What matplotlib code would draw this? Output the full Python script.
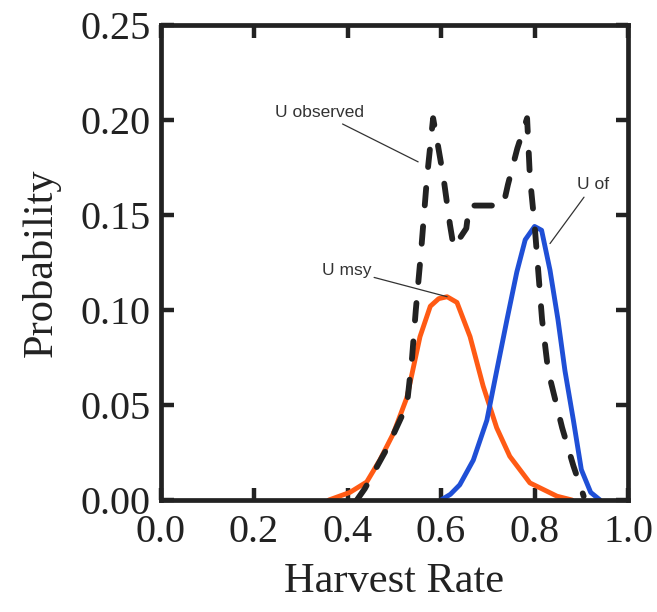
import matplotlib
matplotlib.use("Agg")
import matplotlib.pyplot as plt

# U msy (orange)
msy_x = [0.36, 0.405, 0.441, 0.469, 0.498, 0.527, 0.555, 0.577, 0.595, 0.613, 0.634, 0.662, 0.690, 0.719, 0.747, 0.790, 0.848, 0.880]
msy_y = [0.000, 0.004, 0.0095, 0.021, 0.035, 0.054, 0.086, 0.102, 0.106, 0.107, 0.104, 0.086, 0.060, 0.038, 0.023, 0.009, 0.002, 0.000]

# U of (blue)
of_x = [0.600, 0.620, 0.640, 0.669, 0.698, 0.719, 0.741, 0.762, 0.780, 0.800, 0.815, 0.833, 0.850, 0.865, 0.883, 0.900, 0.920, 0.940]
of_y = [0.000, 0.003, 0.008, 0.021, 0.042, 0.068, 0.095, 0.120, 0.137, 0.144, 0.142, 0.121, 0.095, 0.068, 0.042, 0.016, 0.004, 0.000]

# U observed (dashed)
obs_x = [0.420, 0.437, 0.484, 0.527, 0.538, 0.546, 0.557, 0.570, 0.583, 0.591, 0.605, 0.619, 0.627, 0.654, 0.660, 0.733,
         0.743, 0.763, 0.784, 0.790, 0.800, 0.808, 0.816, 0.829, 0.859, 0.883, 0.905]
obs_y = [0.000, 0.006, 0.027, 0.050, 0.075, 0.100, 0.130, 0.170, 0.201, 0.190, 0.170, 0.145, 0.133, 0.143, 0.155, 0.155,
         0.166, 0.185, 0.201, 0.170, 0.145, 0.120, 0.095, 0.068, 0.038, 0.018, 0.002]

fig = plt.figure(figsize=(6.57, 6.12), dpi=100)
ax = fig.add_axes([0.2443, 0.183, 0.7117, 0.776])

ax.plot(msy_x, msy_y, color="#ff5a14", lw=3.5, solid_capstyle="round", solid_joinstyle="round")
ax.plot(of_x, of_y, color="#1f4fd6", lw=3.5, solid_capstyle="round", solid_joinstyle="round")
ax.plot(obs_x, obs_y, color="#222222", lw=4.2, dashes=(3.0, 3.6), dash_capstyle="round", dash_joinstyle="round")

ann = dict(fontsize=12.5, family="Liberation Sans", color="#333333", va="center")
ax.annotate("U observed", xy=(0.551, 0.178), xytext=(0.245, 0.204),
            arrowprops=dict(arrowstyle="-", color="#333333", lw=0.9, shrinkA=2, shrinkB=0), **ann)
ax.annotate("U msy", xy=(0.613, 0.107), xytext=(0.345, 0.121),
            arrowprops=dict(arrowstyle="-", color="#333333", lw=0.9, shrinkA=0, shrinkB=0), **ann)
ax.annotate("U of", xy=(0.833, 0.135), xytext=(0.891, 0.166),
            arrowprops=dict(arrowstyle="-", color="#333333", lw=0.9, shrinkA=2, shrinkB=0), **ann)

ax.set_xlim(0, 1.0)
ax.set_ylim(0, 0.25)
ax.set_xticks([0.0, 0.2, 0.4, 0.6, 0.8, 1.0])
ax.set_yticks([0.00, 0.05, 0.10, 0.15, 0.20, 0.25])
ax.set_xticklabels(["0.0", "0.2", "0.4", "0.6", "0.8", "1.0"])
ax.set_yticklabels(["0.00", "0.05", "0.10", "0.15", "0.20", "0.25"])

for s in ax.spines.values():
    s.set_linewidth(3.4)
    s.set_color("#222222")
ax.tick_params(direction="in", length=9, width=3.2, color="#222222", top=True, right=True,
               labelsize=29)
ax.tick_params(axis="x", pad=10)
ax.tick_params(axis="y", pad=7)
for lab in ax.get_xticklabels() + ax.get_yticklabels():
    lab.set_family("Liberation Serif")
    lab.set_color("#222222")

ax.set_xlabel("Harvest Rate", family="Liberation Serif", fontsize=30.5, color="#222222", labelpad=8)
ax.set_ylabel("Probability", family="Liberation Serif", fontsize=30.5, color="#222222", labelpad=14)

fig.savefig("out.png", dpi=100)
